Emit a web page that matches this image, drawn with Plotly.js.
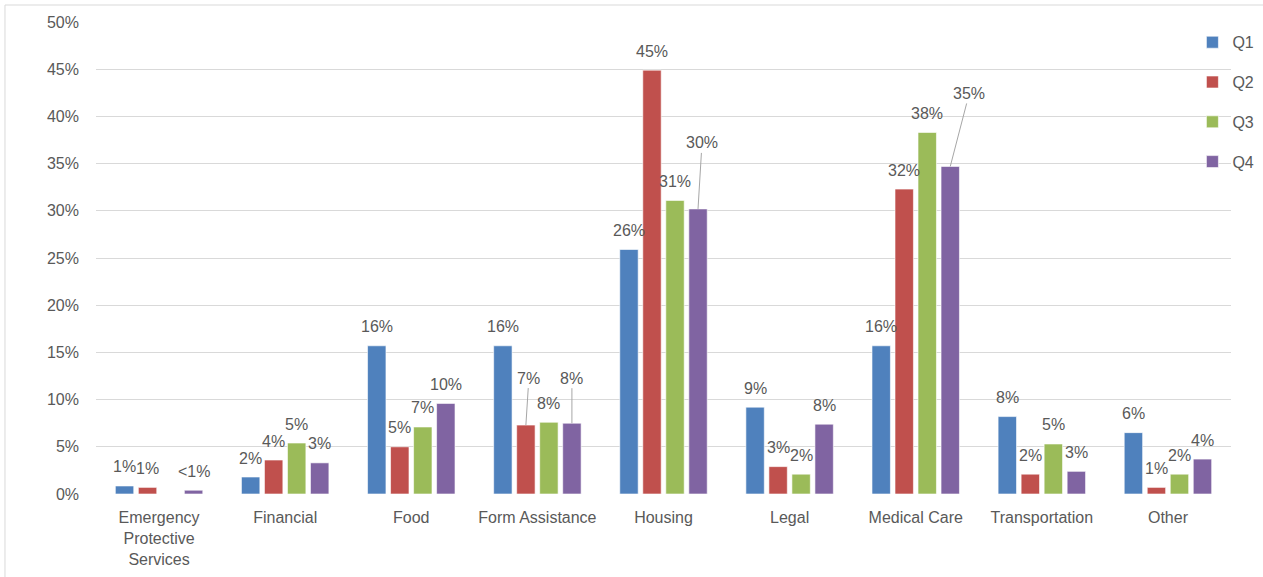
<!DOCTYPE html>
<html>
<head>
<meta charset="utf-8">
<script src="https://cdn.plot.ly/plotly-3.0.1.min.js"></script>
<style>
html,body{margin:0;padding:0;background:#fff;}
#chart{width:1263px;height:577px;}
</style>
</head>
<body>
<div id="chart"></div>
<script>
// ---- data ----
const categories = ['Emergency<br>Protective<br>Services', 'Financial', 'Food', 'Form Assistance', 'Housing', 'Legal', 'Medical Care', 'Transportation', 'Other'];
const seriesNames = ['Q1', 'Q2', 'Q3', 'Q4'];
const q1 = [0.85, 1.8, 15.7, 15.7, 25.9, 9.2, 15.7, 8.2, 6.5];
const q2 = [0.7, 3.6, 5.0, 7.3, 44.9, 2.9, 32.3, 2.1, 0.7];
const q3 = [0, 5.4, 7.1, 7.6, 31.1, 2.1, 38.3, 5.3, 2.1];
const q4 = [0.4, 3.3, 9.6, 7.5, 30.2, 7.4, 34.7, 2.4, 3.7];
const q1Labels = ['1%', '2%', '16%', '16%', '26%', '9%', '16%', '8%', '6%'];
const q2Labels = ['1%', '4%', '5%', '7%', '45%', '3%', '32%', '2%', '1%'];
const q3Labels = ['', '5%', '7%', '8%', '31%', '2%', '38%', '5%', '2%'];
const q4Labels = ['<1%', '3%', '10%', '8%', '30%', '8%', '35%', '3%', '4%'];
const yTicks = [0, 5, 10, 15, 20, 25, 30, 35, 40, 45, 50];
const yTickText = ['0%', '5%', '10%', '15%', '20%', '25%', '30%', '35%', '40%', '45%', '50%'];

// ---- styles ----
const colors = ['#4F81BD', '#C0504D', '#9BBB59', '#8064A2'];
const values = [q1, q2, q3, q4];
const labels = [q1Labels, q2Labels, q3Labels, q4Labels];
const textColor = '#595959';
const fontFamily = '"Liberation Sans", Arial, sans-serif';
const fs = 16;
const bargap = 0.27;
const slot = (1 - bargap) / 4;
// label callouts with leader lines: key "series,category" -> pixel offset of label from bar top
const callouts = {'1,3': [3, -47], '3,3': [0, -45], '3,4': [4, -66], '3,6': [19, -73]};

const traces = values.map((v, s) => ({
  type: 'bar',
  name: seriesNames[s],
  x: categories,
  y: v,
  legendgroup: seriesNames[s],
  marker: {color: colors[s], line: {color: 'rgba(255,255,255,0.6)', width: 1}},
  hoverinfo: 'none'
}));

const annotations = [];
values.forEach((v, s) => {
  v.forEach((val, c) => {
    const txt = labels[s][c];
    if (!txt) return;
    const xpos = c + (s - 1.5) * slot;
    const key = s + ',' + c;
    const base = {
      x: xpos, y: val, xref: 'x', yref: 'y', text: txt,
      font: {family: fontFamily, size: fs, color: textColor}
    };
    if (callouts[key]) {
      annotations.push(Object.assign(base, {
        showarrow: true, arrowhead: 0, arrowwidth: 1, arrowcolor: '#a6a6a6',
        ax: callouts[key][0], ay: callouts[key][1], standoff: 0
      }));
    } else {
      annotations.push(Object.assign(base, {
        showarrow: false, yanchor: 'middle', yshift: 19
      }));
    }
  });
});

const layout = {
  width: 1263, height: 577,
  margin: {l: 96, r: 32, t: 22, b: 83, autoexpand: false},
  paper_bgcolor: '#ffffff', plot_bgcolor: '#ffffff',
  font: {family: fontFamily, size: fs, color: textColor},
  barmode: 'group',
  bargap: bargap,
  bargroupgap: 0.2,
  showlegend: true,
  legend: {
    x: 0.966, y: 0.993, xanchor: 'left', yanchor: 'top',
    bgcolor: 'rgba(0,0,0,0)', tracegroupgap: 16,
    font: {family: fontFamily, size: fs, color: textColor}
  },
  xaxis: {
    type: 'category',
    showgrid: false, zeroline: false, showline: false,
    ticks: '', ticklabelstandoff: 12,
    tickfont: {family: fontFamily, size: fs, color: textColor},
    fixedrange: true
  },
  yaxis: {
    range: [0, 50],
    tickvals: yTicks, ticktext: yTickText,
    showgrid: true, gridcolor: '#d9d9d9', gridwidth: 1,
    zeroline: false, showline: false, ticks: '',
    ticklabelstandoff: 16,
    tickfont: {family: fontFamily, size: fs, color: textColor},
    fixedrange: true
  },
  shapes: [{
    type: 'rect', xref: 'paper', yref: 'paper',
    x0: -0.0802, x1: 1.05, y0: -0.25, y1: 1.036,
    line: {color: '#d9d9d9', width: 1}, fillcolor: 'rgba(0,0,0,0)', layer: 'below'
  }],
  annotations: annotations
};

Plotly.newPlot('chart', traces, layout, {displayModeBar: false, staticPlot: true});
</script>
</body>
</html>
